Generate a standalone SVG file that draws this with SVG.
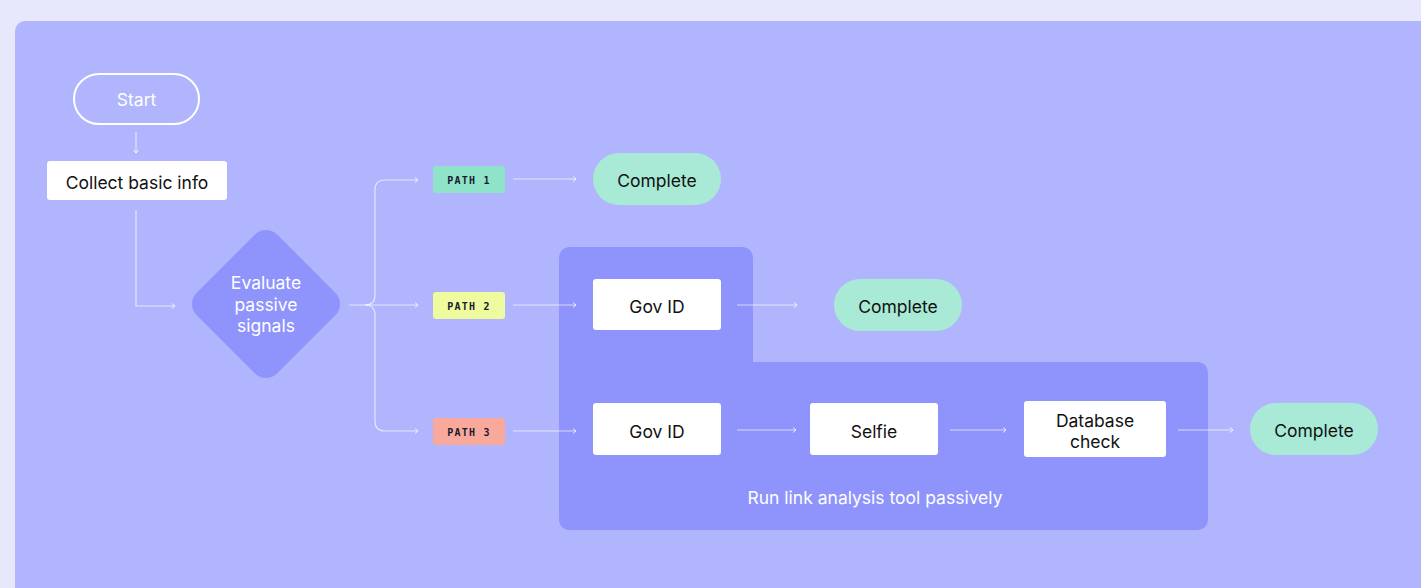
<svg xmlns="http://www.w3.org/2000/svg" width="1421" height="588" viewBox="0 0 1421 588">
<defs>
<style>
.lbl{font-family:Inter,"Liberation Sans",sans-serif;font-size:17.5px;fill:#111;text-anchor:middle;dominant-baseline:central}
.wlbl{font-family:Inter,"Liberation Sans",sans-serif;font-size:17.5px;fill:#fff;text-anchor:middle;dominant-baseline:central}
.tag{font-family:"DejaVu Sans Mono","Liberation Mono",monospace;font-size:10px;font-weight:bold;fill:#1a1a2a;text-anchor:middle;dominant-baseline:central;letter-spacing:1.2px}
.box{fill:#fff}
.done{fill:#a8ead6}
.conn{fill:none;stroke:#fff;stroke-opacity:0.65;stroke-width:1.2}
</style>
<marker id="ah" viewBox="0 0 8 8" refX="7" refY="4" markerWidth="8" markerHeight="8" markerUnits="userSpaceOnUse" orient="auto">
<polyline points="4,1.5 7,4 4,6.5" fill="none" stroke="#fff" stroke-opacity="0.8" stroke-width="1"/>
</marker>
</defs>
<rect width="1421" height="588" fill="#e8e8fc"/>
<rect x="15" y="21" width="1430" height="600" rx="10" fill="#b1b5fd"/>
<g id="group-passive">
<path d="M559,259 Q559,247 571,247 H741 Q753,247 753,259 V362 H1196 Q1208,362 1208,374 V518 Q1208,530 1196,530 H571 Q559,530 559,518 Z" fill="#8f93fc"/>
<text class="wlbl" x="875" y="497">Run link analysis tool passively</text>
</g>
<g id="connectors">
<path class="conn" d="M136,132 V153" marker-end="url(#ah)"/>
<path class="conn" d="M136,210 V306 H175" marker-end="url(#ah)"/>
<path class="conn" d="M349,305 H365 Q375,305 375,295 V190 Q375,180 385,180 H418" marker-end="url(#ah)"/>
<path class="conn" d="M365,305 H418" marker-end="url(#ah)"/>
<path class="conn" d="M365,305 Q375,305 375,315 V421 Q375,431 385,431 H418" marker-end="url(#ah)"/>
<path class="conn" d="M513,179 H576" marker-end="url(#ah)"/>
<path class="conn" d="M513,305 H576" marker-end="url(#ah)"/>
<path class="conn" d="M737,305 H797" marker-end="url(#ah)"/>
<path class="conn" d="M513,431 H576" marker-end="url(#ah)"/>
<path class="conn" d="M737,430 H796" marker-end="url(#ah)"/>
<path class="conn" d="M950,430 H1006" marker-end="url(#ah)"/>
<path class="conn" d="M1178,430 H1233" marker-end="url(#ah)"/>
</g>
<g id="start">
<rect x="74" y="74" width="125" height="50" rx="25" fill="none" stroke="#fff" stroke-width="2"/>
<text class="wlbl" x="136.500" y="99">Start</text>
</g>
<g id="collect">
<rect class="box" x="47" y="161" width="180" height="39" rx="3"/>
<text class="lbl" x="137" y="182">Collect basic info</text>
</g>
<g id="evaluate">
<rect x="209" y="247" width="114" height="114" rx="16" fill="#8f93fc" transform="rotate(45 266 304)"/>
<text class="wlbl" x="266" y="282">Evaluate</text>
<text class="wlbl" x="266" y="304">passive</text>
<text class="wlbl" x="266" y="325">signals</text>
</g>
<g id="path1">
<rect x="433" y="166" width="72" height="27" rx="3" fill="#8fe3c9"/>
<text class="tag" x="469" y="180">PATH 1</text>
</g>
<g id="path2">
<rect x="433" y="292" width="72" height="27" rx="3" fill="#eefc9f"/>
<text class="tag" x="469" y="306">PATH 2</text>
</g>
<g id="path3">
<rect x="433" y="418" width="72" height="27" rx="3" fill="#f8a99c"/>
<text class="tag" x="469" y="432">PATH 3</text>
</g>
<g id="complete1">
<rect class="done" x="593" y="153" width="128" height="52" rx="26"/>
<text class="lbl" x="657" y="180">Complete</text>
</g>
<g id="govid1">
<rect class="box" x="593" y="279" width="128" height="51" rx="3"/>
<text class="lbl" x="657" y="306">Gov ID</text>
</g>
<g id="complete2">
<rect class="done" x="834" y="279" width="128" height="52" rx="26"/>
<text class="lbl" x="898" y="306">Complete</text>
</g>
<g id="govid2">
<rect class="box" x="593" y="403" width="128" height="52" rx="3"/>
<text class="lbl" x="657" y="431">Gov ID</text>
</g>
<g id="selfie">
<rect class="box" x="810" y="403" width="128" height="52" rx="3"/>
<text class="lbl" x="874" y="431">Selfie</text>
</g>
<g id="dbcheck">
<rect class="box" x="1024" y="401" width="142" height="56" rx="3"/>
<text class="lbl" x="1095" y="420">Database</text>
<text class="lbl" x="1095" y="441">check</text>
</g>
<g id="complete3">
<rect class="done" x="1250" y="403" width="128" height="52" rx="26"/>
<text class="lbl" x="1314" y="430">Complete</text>
</g>
</svg>
